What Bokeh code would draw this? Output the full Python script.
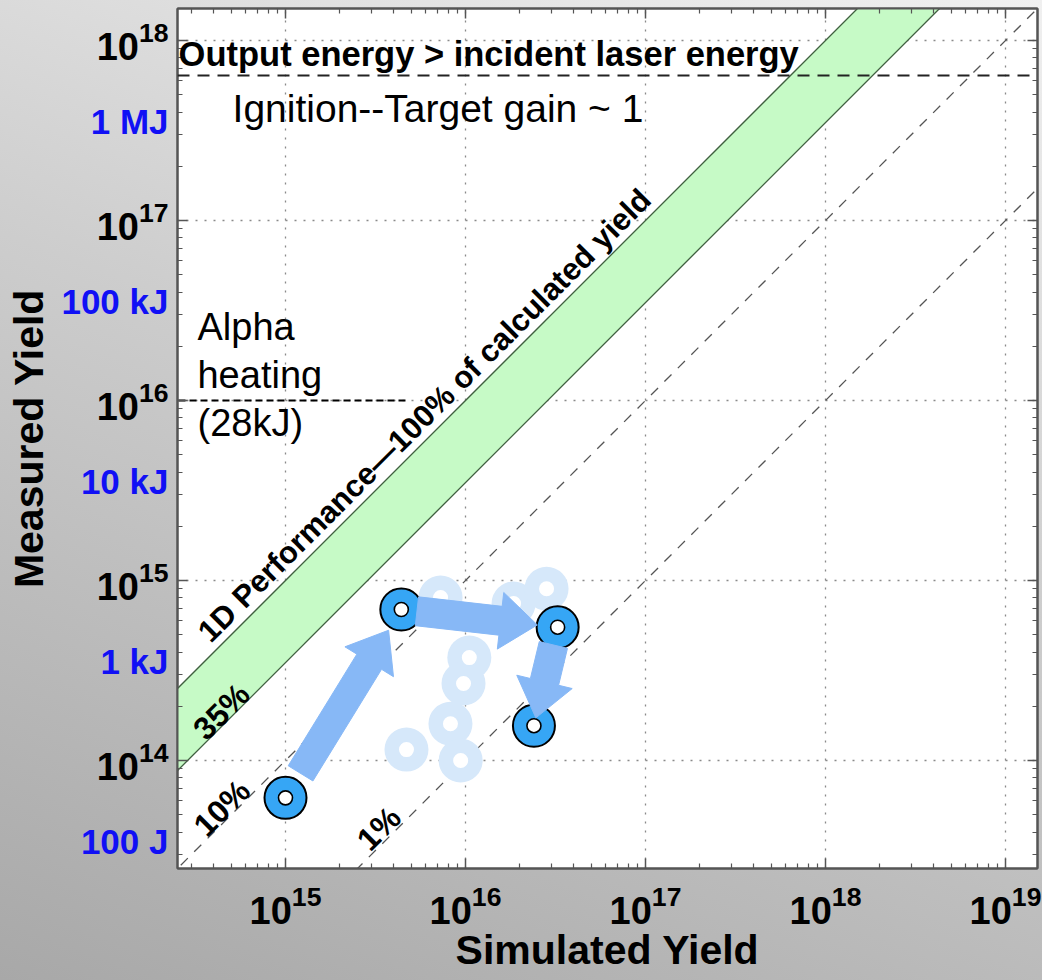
import numpy as np
from bokeh.plotting import figure
from bokeh.models import FixedTicker, LogAxis, Range1d, Span, Label
from bokeh.embed import file_html
from bokeh.resources import INLINE

# ---------------- data ----------------
sim_yield = [1.0e15, 4.4e15, 3.25e16, 2.4e16]          # highlighted shots (x)
meas_yield = [6.2e13, 6.9e14, 5.5e14, 1.56e14]         # highlighted shots (y)
faded_sim = [7.27e15, 1.85e16, 2.82e16, 1.05e16, 9.75e15, 8.25e15, 4.7e15, 9.4e15]
faded_meas = [8.05e14, 7.45e14, 9.0e14, 3.73e14, 2.68e14, 1.6e14, 1.15e14, 1.0e14]
band_ratios = [1.0, 0.35]            # 1D performance band (100% .. 35%)
dashed_ratios = [0.10, 0.01]         # 10% and 1% lines
x_decades = [1e15, 1e16, 1e17, 1e18, 1e19]
y_decades = [1e14, 1e15, 1e16, 1e17, 1e18]
energy_labels = ["100 J", "1 kJ", "10 kJ", "100 kJ", "1 MJ"]
energy_joules = [1e2, 1e3, 1e4, 1e5, 1e6]
joules_per_neutron = 17.6e6 * 1.602e-19     # 17.6 MeV per DT fusion
laser_yield = 6.4e17                 # output energy = incident laser energy
alpha_yield = 1.0e16                 # alpha heating threshold (28 kJ)
alpha_line_end = 4.8e15

FONT = "Liberation Sans"
minor = [m * 10.0 ** e for e in range(12, 21) for m in range(2, 10)]
DEC = 180.0   # pixels per decade (both axes)

p = figure(frame_width=860, frame_height=860, x_axis_type="log", y_axis_type="log",
           x_range=Range1d(10 ** 14.4, 10 ** (14.4 + 860 / DEC)),
           y_range=Range1d(10 ** 13.4, 10 ** (13.4 + 860 / DEC)),
           output_backend="svg", toolbar_location=None,
           min_border_left=177, min_border_right=5, min_border_top=8, min_border_bottom=112)
p.border_fill_color = None
p.background_fill_color = "white"
p.styles = {"background": "linear-gradient(200deg, #f0f0f0 0%, #cdcdcd 45%, #a8a8a8 100%)"}
p.outline_line_color = "#555555"
p.outline_line_width = 2

p.grid.grid_line_color = "#8a8a8a"
p.grid.grid_line_dash = "2 7"
p.grid.grid_line_width = 1.3

def style_axis(ax, ticks, show_labels=True):
    ax.ticker = FixedTicker(ticks=ticks, minor_ticks=minor)
    ax.major_tick_in = 10
    ax.major_tick_out = 0
    ax.minor_tick_in = 5
    ax.minor_tick_out = 0
    ax.major_tick_line_color = "#555555"
    ax.minor_tick_line_color = "#555555"
    ax.major_tick_line_width = 1.5
    ax.minor_tick_line_width = 1.2
    ax.axis_line_color = "#555555"
    ax.axis_line_width = 2
    if show_labels:
        ax.major_label_text_font = FONT
        ax.major_label_text_font_style = "bold"
        ax.major_label_text_font_size = "38px"
        ax.major_label_text_color = "black"
        ax.axis_label_text_font = FONT
        ax.axis_label_text_font_style = "bold"
        ax.axis_label_text_font_size = "41px"
        ax.axis_label_text_color = "black"
    else:
        ax.major_label_text_font_size = "1px"
        ax.major_label_text_alpha = 0
        ax.major_label_standoff = 0

xa = p.xaxis[0]
ya = p.yaxis[0]
style_axis(xa, x_decades)
style_axis(ya, y_decades)
xa.axis_label = "Simulated Yield"
xa.major_label_standoff = 16
xa.axis_label_standoff = 0
ya.major_label_standoff = 9

# energy labels: an outer left axis whose labels are pulled back into the tick-label column
ea = LogAxis(ticker=FixedTicker(ticks=[e / joules_per_neutron for e in energy_joules], minor_ticks=[]),
             major_label_overrides={e / joules_per_neutron: t for e, t in zip(energy_joules, energy_labels)})
ea.major_tick_in = 0
ea.major_tick_out = 0
ea.minor_tick_in = 0
ea.minor_tick_out = 0
ea.axis_line_color = None
ea.major_tick_line_color = None
ea.minor_tick_line_color = None
ea.major_label_text_font = FONT
ea.major_label_text_font_style = "bold"
ea.major_label_text_font_size = "35px"
ea.major_label_text_color = "#1010f5"
ea.major_label_standoff = -75
ea.axis_label = "Measured Yield"
ea.axis_label_text_font = FONT
ea.axis_label_text_font_style = "bold"
ea.axis_label_text_font_size = "41px"
ea.axis_label_text_color = "black"
ea.axis_label_standoff = 6
p.add_layout(ea, "left")

top = LogAxis()
style_axis(top, x_decades, show_labels=False)
p.add_layout(top, "above")
right = LogAxis()
style_axis(right, y_decades, show_labels=False)
p.add_layout(right, "right")

# performance band and ratio lines
xs = np.array([1e13, 1e21])
p.varea(x=xs, y1=xs * band_ratios[1], y2=xs * band_ratios[0], fill_color="#c6fac6")
for r in band_ratios:
    p.line(xs, xs * r, line_color="#3f5f3f", line_width=1.3)
for r in dashed_ratios:
    p.line(xs, xs * r, line_color="#555555", line_width=1.3, line_dash="10 9")

# horizontal thresholds
p.add_layout(Span(location=laser_yield, dimension="width", line_color="#222222",
                  line_width=2, line_dash="12 8"))
p.line([1e13, alpha_line_end], [alpha_yield, alpha_yield], line_color="black",
       line_width=2, line_dash="7 4")

# faded shots
p.scatter(faded_sim, faded_meas, size=44, fill_color="#d6e8fa", line_color=None)
p.scatter(faded_sim, faded_meas, size=15, fill_color="white", line_color=None)
# highlighted shots
p.scatter(sim_yield, meas_yield, size=42, fill_color="#36a6f5", line_color="black", line_width=2)
p.scatter(sim_yield, meas_yield, size=14, fill_color="white", line_color="black", line_width=1.6)

# wide arrows between successive shots, built in log space (equal px per decade)
start_frac = [0.13, 0.10, 0.18]
end_frac = [0.89, 0.87, 0.92]
shaft_w, head_w, head_l = 29 / DEC, 57 / DEC, 37 / DEC
acol = "#87b8f6"
lx = np.log10(sim_yield)
ly = np.log10(meas_yield)
axs, ays = [], []
for i in range(len(sim_yield) - 1):
    d = np.array([lx[i + 1] - lx[i], ly[i + 1] - ly[i]])
    a = np.array([lx[i], ly[i]]) + start_frac[i] * d
    b = np.array([lx[i], ly[i]]) + end_frac[i] * d
    u = (b - a) / np.hypot(*(b - a))
    n = np.array([-u[1], u[0]])
    h = b - u * head_l
    pts = [a + n * shaft_w / 2, h + n * shaft_w / 2, h + n * head_w / 2, b,
           h - n * head_w / 2, h - n * shaft_w / 2, a - n * shaft_w / 2]
    axs.append([10 ** q[0] for q in pts])
    ays.append([10 ** q[1] for q in pts])
p.patches(axs, ays, fill_color=acol, line_color=acol, line_width=1)

def lab(lx_, ly_, text, size, bold=False, angle=0, align="left"):
    p.add_layout(Label(x=10 ** lx_, y=10 ** ly_, text=text, text_font=FONT, text_font_size=size,
                       text_font_style="bold" if bold else "normal", text_color="black",
                       angle=angle, angle_units="deg", text_align=align,
                       text_baseline="middle"))

lab(14.406, 17.927, "Output energy > incident laser energy", "34.5px", bold=True)
lab(14.706, 17.624, "Ignition--Target gain ~ 1", "39px")
lab(14.511, 16.407, "Alpha", "38px")
lab(14.511, 16.140, "heating", "38px")
lab(14.511, 15.873, "(28kJ)", "38px")
lab(15.772, 15.917, "1D Performance\u2014100% of calculated yield", "31px",
    bold=True, angle=45, align="center")
lab(14.644, 14.272, "35%", "32px", bold=True, angle=45, align="center")
lab(14.647, 13.736, "10%", "32px", bold=True, angle=45, align="center")
lab(15.519, 13.622, "1%", "32px", bold=True, angle=45, align="center")

open("out.html", "w").write(file_html(p, INLINE))
